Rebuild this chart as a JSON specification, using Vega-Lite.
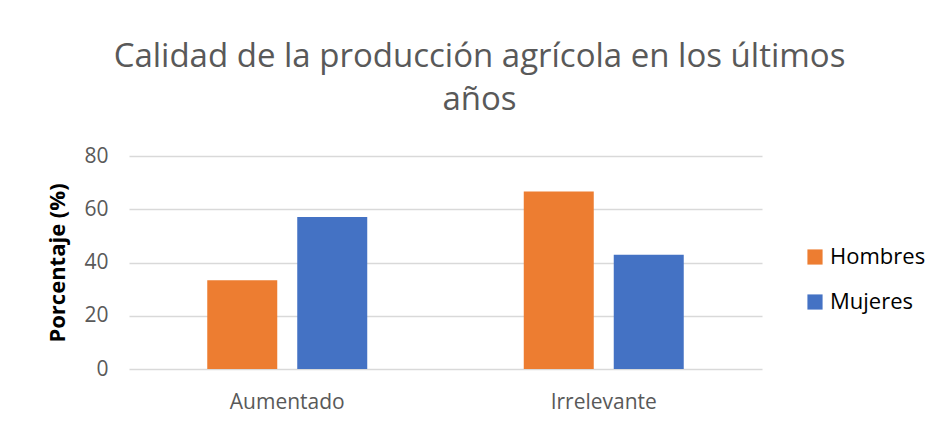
{
  "$schema": "https://vega.github.io/schema/vega-lite/v6.json",
  "width": 633,
  "height": 213,
  "autosize": "none",
  "padding": {"left": 129, "top": 156, "right": 176, "bottom": 55},
  "background": "white",
  "title": {
    "text": ["Calidad de la producción  agrícola en los últimos", "años"],
    "fontSize": 33,
    "font": "Open Sans",
    "fontWeight": "normal",
    "color": "#595959",
    "anchor": "middle",
    "frame": "group",
    "dx": 34,
    "limit": 1000,
    "lineHeight": 43,
    "offset": 28
  },
  "data": {
    "values": [
      {"categoria": "Aumentado", "sexo": "Hombres", "porcentaje": 33.3},
      {"categoria": "Aumentado", "sexo": "Mujeres", "porcentaje": 57.1},
      {"categoria": "Irrelevante", "sexo": "Hombres", "porcentaje": 66.7},
      {"categoria": "Irrelevante", "sexo": "Mujeres", "porcentaje": 42.9}
    ]
  },
  "mark": {"type": "bar"},
  "encoding": {
    "x": {
      "field": "categoria",
      "type": "nominal",
      "scale": {"paddingInner": 0.4945, "paddingOuter": 0.24725},
      "axis": {
        "title": null,
        "labelAngle": 0,
        "labelFont": "Open Sans",
        "labelFontSize": 21,
        "labelColor": "#595959",
        "labelPadding": 22,
        "domain": false,
        "ticks": false
      }
    },
    "xOffset": {
      "field": "sexo",
      "type": "nominal",
      "scale": {"paddingInner": 0.2222, "paddingOuter": 0}
    },
    "y": {
      "field": "porcentaje",
      "type": "quantitative",
      "scale": {"domain": [0, 80], "nice": false},
      "axis": {
        "title": "Porcentaje (%)",
        "titleFont": "Open Sans",
        "titleFontSize": 22,
        "titleFontWeight": "bold",
        "titleColor": "black",
        "titlePadding": 14,
        "values": [0, 20, 40, 60, 80],
        "labelFont": "Open Sans",
        "labelFontSize": 21,
        "labelColor": "#595959",
        "labelPadding": 21,
        "domain": false,
        "ticks": false,
        "gridColor": "#D9D9D9",
        "gridWidth": 1.5
      }
    },
    "color": {
      "field": "sexo",
      "type": "nominal",
      "scale": {"domain": ["Hombres", "Mujeres"], "range": ["#ED7D31", "#4472C4"]},
      "legend": {
        "title": null,
        "orient": "none",
        "legendX": 675,
        "legendY": 90,
        "symbolType": "square",
        "symbolSize": 230,
        "symbolStrokeWidth": 0,
        "labelFont": "Open Sans",
        "labelFontSize": 22,
        "labelColor": "black",
        "rowPadding": 23,
        "labelOffset": 4
      }
    }
  },
  "config": {
    "view": {"stroke": null}
  }
}
